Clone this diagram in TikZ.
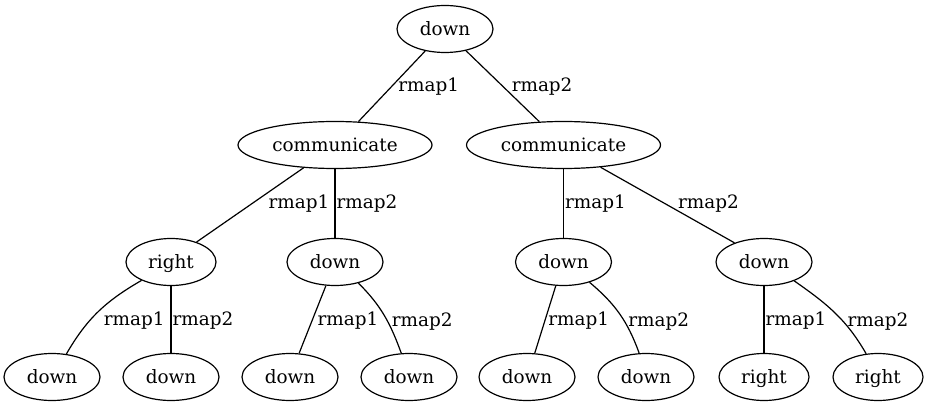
\documentclass[tikz,border=0pt]{standalone}
\usepackage{fontspec}
\setmainfont{DejaVu Serif}
\usetikzlibrary{shapes.geometric}

\begin{document}
\begin{tikzpicture}[x=0.5pt, y=0.5pt]
% Define styles
\tikzstyle{rnode} = [ellipse, draw=black, line width=0.6pt, minimum width=48pt, minimum height=23.5pt, inner sep=0pt, text height=1.7ex, text depth=0.45ex, font=\fontsize{9.2}{11}\selectfont]
\tikzstyle{wide} = [rnode, minimum width=97pt]
\tikzstyle{narrow} = [rnode, minimum width=45pt]
\tikzstyle{link} = [line width=0.6pt]
\tikzstyle{lbl} = [anchor=west, inner sep=0.5pt, font=\fontsize{9.2}{11}\selectfont]

\useasboundingbox (0,0) rectangle (929,407);

% Root and first level
\node (root) [rnode] at (445,378) {down};
\node (cl) [wide] at (335,262) {communicate};
\node (cr) [wide] at (563.5,262) {communicate};

% Second level
\node (rt) [narrow] at (171,145) {right};
\node (d1) [rnode] at (335,145) {down};
\node (d2) [rnode] at (563.5,145) {down};
\node (d3) [rnode] at (764,145) {down};

% Leaves
\node (l1) [rnode] at (52,30) {down};
\node (l2) [rnode] at (171,30) {down};
\node (l3) [rnode] at (290,30) {down};
\node (l4) [rnode] at (409,30) {down};
\node (l5) [rnode] at (527,30) {down};
\node (l6) [rnode] at (646,30) {down};
\node (l7) [narrow] at (764,30) {right};
\node (l8) [narrow] at (878,30) {right};

% Edges from the root
\draw [link] (root.228) -- node[lbl, xshift=2.5pt] {rmap1} (cl.45);
\draw [link] (root.314) -- node[lbl, xshift=3.75pt] {rmap2} (cr.136);

% Edges from the communicate nodes
\draw [link] (cl.216) -- node[lbl, xshift=8.5pt, yshift=0.5pt] {rmap1} (rt.38);
\draw [link] (cl.south) -- node[lbl] {rmap2} (d1.north);
\draw [link] (cr.south) -- node[lbl] {rmap1} (d2.north);
\draw [link] (cr.329) -- node[lbl, xshift=4.5pt, yshift=0.5pt] {rmap2} (d3.147);

% Edges to the leaves
\draw [link] (rt.212) to [out=210, in=60] node[lbl, xshift=2pt, yshift=-4.5pt] {rmap1} (l1.58);
\draw [link] (rt.south) -- node[lbl, yshift=-0.5pt] {rmap2} (l2.north);
\draw [link] (d1.249) -- node[lbl, xshift=1.75pt, yshift=-0.5pt] {rmap1} (l3.69);
\draw [link] (d1.318) to [out=-45, in=110] node[lbl, xshift=3pt, yshift=-3pt] {rmap2} (l4.108);
\draw [link] (d2.252) -- node[lbl, xshift=0.75pt, yshift=-0.5pt] {rmap1} (l5.72);
\draw [link] (d2.322) to [out=-40, in=110] node[lbl, xshift=3.5pt, yshift=-4pt] {rmap2} (l6.106);
\draw [link] (d3.south) -- node[lbl, yshift=-0.5pt] {rmap1} (l7.north);
\draw [link] (d3.328) to [out=-35, in=120] node[lbl, xshift=5.5pt, yshift=-4.5pt] {rmap2} (l8.117);

\end{tikzpicture}
\end{document}
